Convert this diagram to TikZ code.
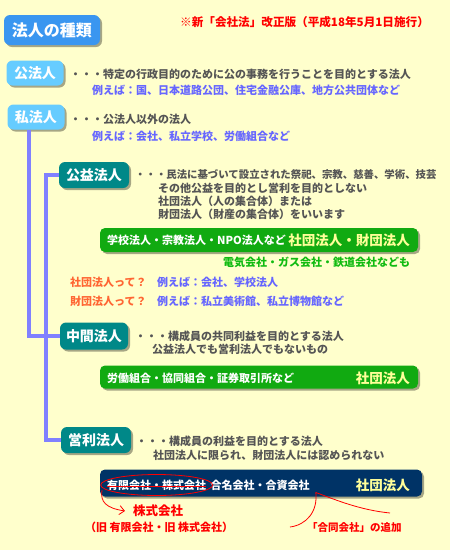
\documentclass[tikz,border=0pt]{standalone}
\usepackage{fontspec}
\setmainfont{Noto Sans CJK JP}
\usepackage{xcolor}
\usetikzlibrary{positioning, shadows, arrows.meta}
\definecolor{paper}{HTML}{FFFFCC}
\definecolor{titleblue}{HTML}{3A96F0}
\definecolor{skyblue}{HTML}{66CCFF}
\definecolor{tealbox}{HTML}{008888}
\definecolor{bargreen}{HTML}{11AA11}
\definecolor{barnavy}{HTML}{003366}
\definecolor{treeline}{HTML}{8080FF}
\definecolor{desctext}{HTML}{555555}
\definecolor{exampleblue}{HTML}{6666FF}
\definecolor{askred}{HTML}{FF6633}
\definecolor{notegreen}{HTML}{11BB11}
\definecolor{kindyellow}{HTML}{FFFF99}
\tikzstyle{boxshadow} = [drop shadow={shadow xshift=2pt, shadow yshift=-2pt,
                         fill=black, opacity=0.35}]
\tikzstyle{titlebox}  = [rectangle, rounded corners=6pt, minimum width=96pt,
                         minimum height=30pt, fill=titleblue, text=white,
                         font=\bfseries\fontsize{16}{18}\selectfont, boxshadow]
\tikzstyle{kindbox}   = [rectangle, rounded corners=6pt, minimum width=57pt,
                         minimum height=25pt, fill=skyblue, text=white,
                         font=\bfseries\fontsize{14}{16}\selectfont, boxshadow]
\tikzstyle{subbox}    = [rectangle, rounded corners=6pt, minimum width=70pt,
                         minimum height=26pt, fill=tealbox, text=white,
                         font=\bfseries\fontsize{14}{16}\selectfont, boxshadow]
\tikzstyle{bar}       = [rectangle, rounded corners=5pt, minimum width=318pt,
                         minimum height=24pt, boxshadow]
\tikzstyle{desc}      = [anchor=west, inner sep=0pt, text=desctext,
                         font=\bfseries\fontsize{11}{13}\selectfont]
\tikzstyle{example}   = [desc, text=exampleblue]
\tikzstyle{bartext}   = [desc, text=white]
\tikzstyle{barkind}   = [anchor=east, inner sep=0pt, text=kindyellow,
                         font=\bfseries\fontsize{13.5}{15}\selectfont]
\tikzstyle{tree}      = [treeline, line width=4pt]
\tikzstyle{pointer}   = [red, line width=0.8pt]

\begin{document}
\begin{tikzpicture}[x=1pt, y=-1pt]
    \fill[paper] (0,0) rectangle (450,550);
    \useasboundingbox (0,0) rectangle (450,550);

    % heading
    \node (title) [titlebox] at (52,30) {法人の種類};
    \node (revision) [desc, text=red, font=\bfseries\fontsize{11.6}{13}\selectfont]
        at (180,22) {※新「会社法」改正版（平成18年5月1日施行）};

    % public / private
    \node (kohojin) [kindbox] at (35,73) {公法人};
    \node (kohodesc) [desc] at (70,74) {・・・特定の行政目的のために公の事務を行うことを目的とする法人};
    \node (kohoex) [example] at (92,90) {例えば：国、日本道路公団、住宅金融公庫、地方公共団体など};

    \node (shihojin) [kindbox] at (36,117) {私法人};
    \node (shihodesc) [desc] at (70,119) {・・・公法人以外の法人};
    \node (shihoex) [example] at (92,136) {例えば：会社、私立学校、労働組合など};

    % public-interest corporations
    \node (koeki) [subbox] at (94,175) {公益法人};
    \node (koekidesc) [desc, font=\bfseries\fontsize{10.4}{13}\selectfont]
        at (135,175) {・・・民法に基づいて設立された祭祀、宗教、慈善、学術、技芸};
    \node (koekidesc2) [desc] at (158,188) {その他公益を目的とし営利を目的としない};
    \node (koekidesc3) [desc] at (158,201) {社団法人（人の集合体）または};
    \node (koekidesc4) [desc] at (158,214) {財団法人（財産の集合体）をいいます};

    \node (koekibar) [bar, fill=bargreen] at (259,240) {};
    \node (koekilist) [bartext] at (107,240) {学校法人・宗教法人・NPO法人など};
    \node (koekikind) [barkind] at (410,240) {社団法人・財団法人};
    \node (koekinote) [desc, text=notegreen] at (223,262) {電気会社・ガス会社・鉄道会社なども};

    \node (shadanq) [desc, text=askred] at (70,282) {社団法人って？};
    \node (shadanex) [example] at (157,282) {例えば：会社、学校法人};
    \node (zaidanq) [desc, text=askred] at (70,301) {財団法人って？};
    \node (zaidanex) [example] at (157,301) {例えば：私立美術館、私立博物館など};

    % intermediate corporations
    \node (chukan) [subbox, minimum width=68pt, minimum height=27pt] at (94,336) {中間法人};
    \node (chukandesc) [desc] at (135,336) {・・・構成員の共同利益を目的とする法人};
    \node (chukandesc2) [desc] at (152,349) {公益法人でも営利法人でもないもの};

    \node (chukanbar) [bar, fill=bargreen, minimum height=23pt] at (259,377) {};
    \node (chukanlist) [bartext] at (107,378) {労働組合・協同組合・証券取引所など};
    \node (chukankind) [barkind] at (410,378) {社団法人};

    % for-profit corporations
    \node (eiri) [subbox] at (96,440) {営利法人};
    \node (eiridesc) [desc] at (136,441) {・・・構成員の利益を目的とする法人};
    \node (eiridesc2) [desc] at (153,455) {社団法人に限られ、財団法人には認められない};

    \node (eiribar) [bar, fill=barnavy, minimum width=322pt, minimum height=27pt] at (261,483) {};
    \node (yugen) [bartext] at (107,485) {有限会社・株式会社};
    \node (goshi) [bartext, right=4pt of yugen] {合名会社・合資会社};
    \node (eirikind) [barkind] at (410,485) {社団法人};

    \node (kabu) [desc, text=red, font=\bfseries\fontsize{12.5}{14}\selectfont]
        at (133,511) {株式会社};
    \node (kyu) [desc, text=red] at (85,527) {（旧 有限会社・旧 株式会社）};
    \node (godo) [desc, text=red, font=\bfseries\fontsize{10.5}{13}\selectfont]
        at (307,528) {「合同会社」の追加};

    % tree
    \draw [tree] ([xshift=-7pt]shihojin.south) |- (chukan.west);
    \draw [tree] (koeki.west) -- ++(-13,0) |- (eiri.west);

    % corrections
    \draw [pointer] ([yshift=-1pt]yugen.west) -- ([yshift=-1pt]yugen.east);
    \draw [pointer] (yugen.center) ellipse [x radius=56pt, y radius=10.5pt];
    \coordinate (ovalfoot) at (102,490);
    \draw [pointer, -{Straight Barb[length=5pt, width=9pt]}]
        (ovalfoot) .. controls (100,502) and (106,508) .. ([xshift=-8pt]kabu.west);
    \coordinate (godotip) at ([xshift=6pt, yshift=-2pt]goshi.south east);
    \coordinate (godoleft) at (290,527);
    \coordinate (godoright) at (390,513);
    \draw [pointer] (godotip) .. controls (336,500) and (360,510) .. (godoright);
    \draw [pointer] (godotip) .. controls (318,512) and (306,525) .. (godoleft);
\end{tikzpicture}
\end{document}
